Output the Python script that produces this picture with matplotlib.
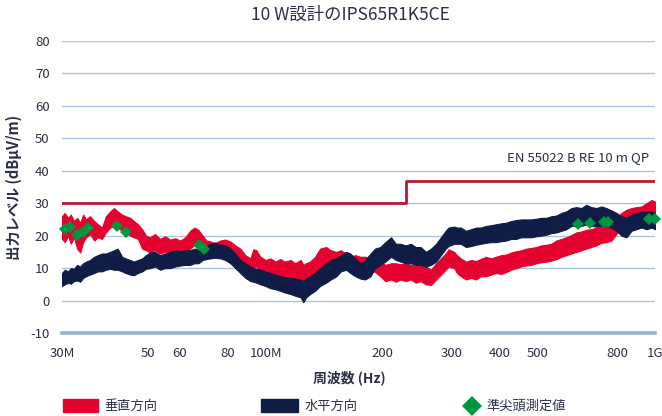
import matplotlib
matplotlib.use("Agg")
import matplotlib.pyplot as plt
from matplotlib.patches import Rectangle
from matplotlib.lines import Line2D
import matplotlib.transforms as mtransforms

plt.rcParams['font.family'] = ['Noto Sans CJK JP', 'DejaVu Sans']
plt.rcParams['axes.unicode_minus'] = False

# ---------------- data (MHz, dBuV/m) ----------------
freq = [30.0, 30.5, 31.1, 31.6, 32.2, 32.8, 33.4, 34.0, 34.6, 35.4, 36.3, 37.1, 38.0, 38.9,
        39.9, 40.8, 41.7, 42.8, 43.7, 44.9, 45.9, 47.0, 48.2, 49.3, 50.5, 52.0, 53.6, 55.2,
        56.9, 58.6, 60.4, 62.2, 64.0, 65.6, 67.2, 68.9, 70.5, 72.1, 74.3, 76.5, 78.8, 81.2,
        83.6, 86.1, 88.7, 91.4, 93.0, 94.7, 97.0, 99.9, 102.9, 106, 109, 112, 116, 119, 123,
        125, 127, 130, 134, 138, 143, 147, 152, 156, 161, 165, 170, 175, 180, 186, 191, 197,
        203, 210, 216, 222, 229, 236, 243, 250, 258, 266, 274, 282, 290, 295, 305, 310, 317,
        327, 337, 347, 357, 368, 379, 390, 403, 415, 427, 440, 453, 467, 481, 495, 510, 526,
        542, 558, 575, 592, 610, 628, 647, 666, 686, 707, 728, 750, 773, 796, 820, 845, 870,
        896, 923, 951, 980, 1000]

vert_lo = [19, 18, 20, 17.5, 19.5, 16, 14.8, 18, 19.5, 20.5, 18.5, 19.5, 19, 21,
           22.5, 23, 22.5, 21.5, 21, 20, 19.5, 19, 16, 15.5, 14.8, 15.5, 14.5, 15,
           14.2, 15, 13.8, 14.8, 16, 17, 16.5, 14.8, 14.5, 15, 15.2, 15.5, 15.8, 14.5,
           13.5, 12, 10, 9, 10, 10.5, 8.5, 7.5, 7.5, 6.5, 7.5, 6, 7.5, 5.5, 4.5,
           5, 5.5, 6.5, 7.5, 9, 10, 10.5, 10, 10.5, 11, 10.5, 10.5, 9.5, 9, 9.5, 8.8, 7.5,
           6, 6.5, 5.8, 6.5, 6, 6.5, 5.5, 6, 5, 4.8, 6.5, 8, 9.5, 10.5, 10, 8.5, 7.5,
           6.5, 7, 6.5, 7.5, 7.5, 8, 8.5, 8.2, 8.8, 9.5, 10, 10.5, 10.8, 11, 11.5, 11.8, 12,
           12.3, 12.8, 13.5, 14, 14.5, 15, 15.5, 16, 16.5, 17, 17.8, 18, 18.5, 20.5, 22.5, 23.5, 24,
           24.5, 24.5, 25.5, 25.5, 25]
vert_hi = [26, 27, 25.5, 26.5, 24.5, 25.5, 24, 26.5, 25, 26, 24.5, 23.5, 22.5, 26,
           27.5, 28.5, 27.5, 26.5, 26, 25.5, 24.5, 23.5, 22, 20, 19.5, 20.5, 19, 19.8,
           18.8, 19.2, 18.5, 19.5, 21.5, 22.5, 21.8, 20, 18.5, 18.2, 17.8, 18.5, 18.8, 18.2,
           17, 16, 14, 13, 15.8, 15.5, 13.5, 12.5, 13, 12, 12.8, 12, 12.5, 11.5, 12.5,
           11, 11.5, 12, 13.5, 16, 16.5, 15.5, 15, 15.5, 14.5, 13.5, 14, 13.5, 13.5, 13, 12.5, 12,
           11, 11.5, 11.5, 11.2, 11.5, 11, 10.8, 11.5, 10.5, 9.5, 11.5, 13, 14.5, 15.8, 15, 14, 13,
           12, 12.5, 12.2, 12.8, 13.5, 13, 13.5, 14, 14.2, 14.8, 15.2, 15.5, 16, 16.2, 16.5, 17, 17.2,
           17.5, 18.5, 19, 19.5, 20.2, 21, 21.3, 21.8, 22, 22.5, 23, 23.5, 24, 25.5, 27, 28, 28.5,
           28.8, 29, 30, 31, 30.5]

horiz_lo = [4.5, 5, 5.5, 5.2, 6, 6.2, 5.8, 7, 7.5, 8, 8.5, 9, 9, 9.5,
            9.8, 9.5, 9.5, 9, 8.5, 8, 7.8, 8.5, 9, 9.8, 10, 10.5, 9.5, 10,
            10, 10.5, 10.8, 11, 11, 11.5, 11.5, 12.5, 12.8, 13, 13.2, 13, 12.5, 11.5,
            10, 8.5, 7, 6, 5.8, 5.5, 5, 4.5, 3.8, 3.5, 3, 2.5, 2, 1.5, 1,
            -0.5, 1, 2, 3, 4.5, 5.5, 6.5, 7.5, 9, 9.5, 8.5, 7.5, 6.8, 6.5, 7.5, 10, 11,
            12, 13.5, 12.5, 12, 11.5, 11.5, 11, 11, 10.5, 11, 12, 14, 16, 16.8, 17.5, 17.5, 17.5,
            16.5, 16.8, 17.2, 17.5, 17.8, 18, 18, 18.3, 18.5, 19, 19, 19.5, 19.5, 19.5, 19.8, 20, 20.3,
            20.8, 21, 21.5, 22, 23, 23.2, 23, 23.5, 23, 22.8, 23.2, 23, 22.5, 21.5, 20, 19.5, 21.5,
            22, 22.5, 22, 22.5, 22]
horiz_hi = [8.5, 9.5, 9, 10, 9.8, 11, 10.5, 11.5, 12, 12.5, 13.5, 14, 14.5, 14.5,
            15, 15.5, 16, 13.5, 13, 12.5, 12, 12.5, 13, 14, 14.8, 15, 14, 14.5,
            15, 15.5, 15.2, 15.5, 15.5, 16, 15.8, 16.5, 16.8, 17.5, 17.8, 17.2, 17, 16,
            14.5, 12.5, 11.5, 10.5, 10, 9.8, 9.5, 9, 8.5, 8, 7.5, 7.2, 7, 6.8, 6.5,
            6, 6.8, 7.5, 8.5, 10, 11.5, 12.5, 13, 14, 15, 14.5, 13, 11.5, 12.5, 14.5, 16, 16.5,
            18, 19.5, 17.5, 17.5, 17, 17.5, 16.5, 16.5, 15, 16, 17.5, 19.5, 21.5, 22.5, 22.8, 22.5, 22.5,
            21.5, 22, 22.5, 22.5, 23, 23.2, 23.5, 23.8, 24, 24.5, 24.8, 25, 25, 25, 25.2, 25.5, 25.5,
            26, 26.2, 27, 27.5, 28.5, 28.8, 28.5, 29.5, 28.8, 28.5, 29, 28.5, 27.8, 27, 26, 25.5, 26.5,
            27, 27.5, 27.5, 27.5, 27]

limit_freq = [30, 230, 230, 1000]
limit_val = [30, 30, 37, 37]
limit_label = "EN 55022 B RE 10 m QP"

qp_freq = [30.5, 31.5, 32.8, 34.0, 35.0, 41.5, 43.8, 67.5, 69.5, 634, 681, 740, 757, 965, 1000]
qp_val = [22.2, 22.6, 20.3, 21.1, 22.3, 23.0, 21.0, 17.0, 15.8, 23.7, 24.0, 24.3, 24.3, 25.2, 25.2]

xticks = [30, 50, 60, 80, 100, 200, 300, 400, 500, 800, 1000]
xticklabels = ["30M", "50", "60", "80", "100M", "200", "300", "400", "500", "800", "1G"]
yticks = list(range(-10, 81, 10))

title = "10 W設計のIPS65R1K5CE"
xlabel = "周波数 (Hz)"
ylabel = "出力レベル (dBμV/m)"
legend_labels = ["垂直方向", "水平方向", "準尖頭測定値"]

# ---------------- style ----------------
RED = "#e4032e"
NAVY = "#0f1c45"
GREEN = "#00963f"
LIMIT = "#b81830"
GRID = "#a9c4df"
TXT = "#2a2f45"

W, H = 662, 416
fig = plt.figure(figsize=(W / 100, H / 100), dpi=100)
ax = fig.add_axes([62 / W, 1 - 333 / H, (655 - 62) / W, (333 - 41) / H])

ax.set_xscale("log")
ax.set_xlim(30, 1000)
ax.set_ylim(-10, 80)

for y in yticks:
    if y == -10:
        ax.axhline(y, color="#93b4d4", lw=2.6, zorder=0.5, clip_on=False)
    else:
        ax.axhline(y, color=GRID, lw=1.0, zorder=0.5)

ax.fill_between(freq, vert_lo, vert_hi, color=RED, lw=0.8, edgecolor=RED, zorder=2)
ax.fill_between(freq, horiz_lo, horiz_hi, color=NAVY, lw=0.8, edgecolor=NAVY, zorder=3)
ax.plot(limit_freq, limit_val, color=LIMIT, lw=2.0, zorder=4)
ax.plot(qp_freq, qp_val, linestyle="none", marker="D", markersize=6.5,
        color=GREEN, markeredgewidth=0, zorder=5, clip_on=False)

trans = mtransforms.blended_transform_factory(ax.transAxes, ax.transData)
ax.text(0.99, 44.2, limit_label, transform=trans, ha="right", va="center",
        fontsize=9.5, color=TXT)

ax.set_xticks(xticks)
ax.set_xticklabels(xticklabels)
ax.xaxis.set_minor_locator(matplotlib.ticker.NullLocator())
ax.set_yticks(yticks)
ax.tick_params(axis="both", length=0, labelsize=9.5, colors=TXT)
ax.tick_params(axis="x", pad=10)
ax.tick_params(axis="y", pad=9)
for s in ax.spines.values():
    s.set_visible(False)

ax.set_ylabel(ylabel, fontsize=10.5, color=TXT, fontweight="bold", labelpad=6)
fig.text(349 / W, 1 - 378 / H, xlabel, ha="center", va="center", fontsize=10,
         color=TXT, fontweight="bold")

fig.text(350 / W, 1 - 15 / H, title, ha="center", va="center", fontsize=12.5, color=TXT)

# legend
ly = 1 - 406 / H
fig.add_artist(Rectangle((63 / W, 1 - 412 / H), 35 / W, 13 / H, color=RED, transform=fig.transFigure))
fig.text(104 / W, ly, legend_labels[0], ha="left", va="center", fontsize=9.5, color=TXT)
fig.add_artist(Rectangle((261 / W, 1 - 412 / H), 37 / W, 13 / H, color=NAVY, transform=fig.transFigure))
fig.text(305 / W, ly, legend_labels[1], ha="left", va="center", fontsize=9.5, color=TXT)
fig.add_artist(Line2D([472 / W], [ly], marker="D", markersize=10, color=GREEN,
                      markeredgewidth=0, transform=fig.transFigure))
fig.text(487 / W, ly, legend_labels[2], ha="left", va="center", fontsize=9.5, color=TXT)

fig.savefig("out.png", dpi=100)
